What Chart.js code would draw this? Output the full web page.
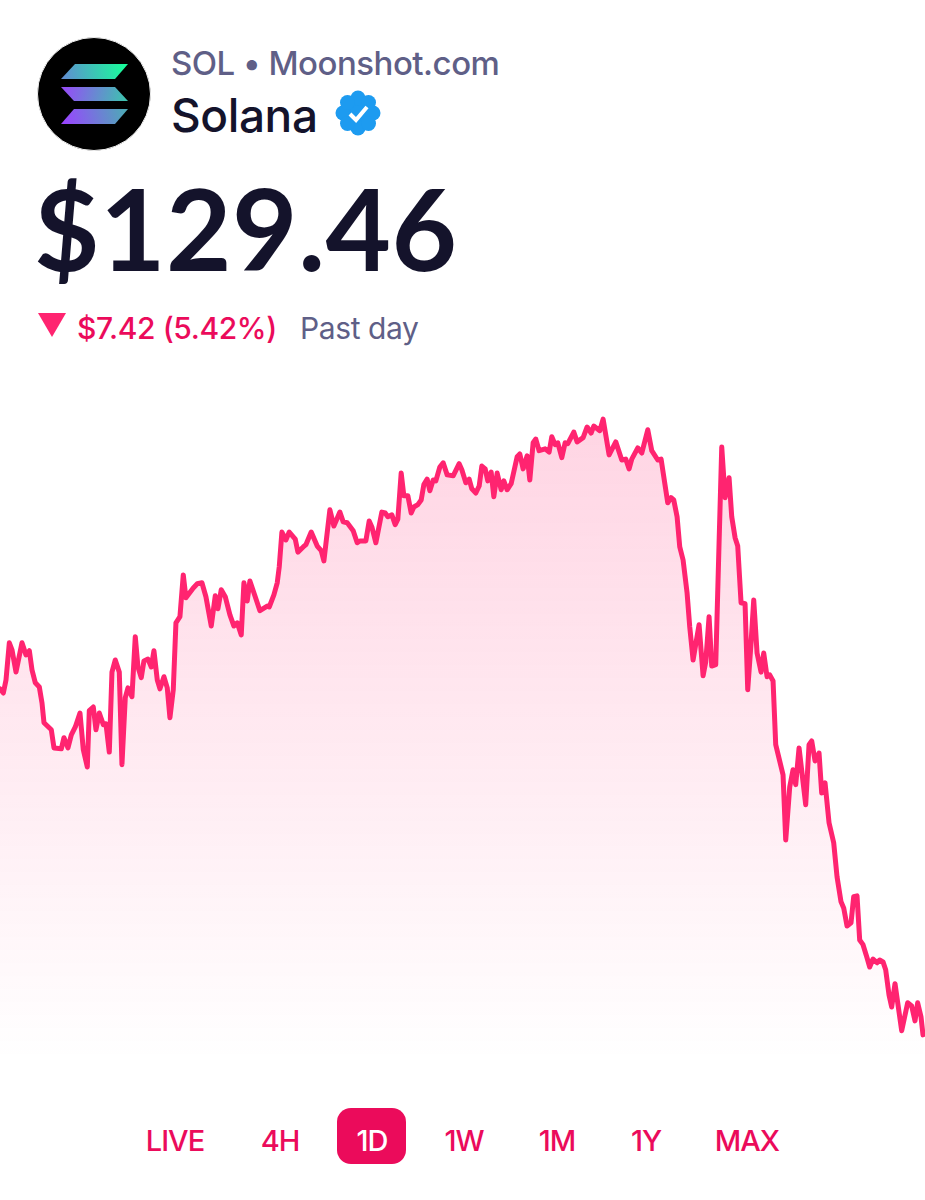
<!DOCTYPE html>
<html>
<head>
<meta charset="utf-8">
<title>Solana</title>
<script src="https://cdn.jsdelivr.net/npm/chart.js@4"></script>
<style>
    html, body { margin: 0; padding: 0; background: #fff; }
    body { position: relative; width: 925px; height: 1200px; overflow: hidden; font-family: Inter, sans-serif; }
    .abs { position: absolute; white-space: nowrap; line-height: 1; }
    #chart-wrap { position: absolute; left: 0; top: 400px; width: 925px; height: 660px; }
    #ticker { left: 171px; top: 47px; font-size: 33px; color: #5f5f87; font-weight: 500; letter-spacing: -0.5px; }
    #name { left: 171px; top: 92px; font-size: 46px; color: #14132b; font-weight: 500; letter-spacing: -0.4px; }
    #price { left: 34px; top: 171px; font-family: Lato, sans-serif; font-size: 113px; color: #14132b; font-weight: 700; letter-spacing: 0.5px; }
    #change { left: 77px; top: 313px; font-size: 30px; color: #eb0b5b; font-weight: 500; letter-spacing: -0.4px; }
    #past { left: 300px; top: 313px; font-size: 30px; color: #5f5f87; letter-spacing: -0.4px; }
    .range { top: 1126px; font-size: 29px; color: #eb0b5b; font-weight: 500; letter-spacing: -1px; transform: translateX(-50%); }
    #active-range { position: absolute; left: 337px; top: 1108px; width: 69px; height: 56px; border-radius: 14px; background: #eb0b5b; }
</style>
</head>
<body>

<svg class="abs" style="left:0;top:0" width="420" height="345">
    <defs>
        <linearGradient id="sol-top" gradientUnits="userSpaceOnUse" x1="64" y1="78" x2="124" y2="65">
            <stop offset="0" stop-color="#5f8fd0"/>
            <stop offset="1" stop-color="#19fb9b"/>
        </linearGradient>
        <linearGradient id="sol-mid" gradientUnits="userSpaceOnUse" x1="66" y1="88" x2="124" y2="100">
            <stop offset="0" stop-color="#9350f5"/>
            <stop offset="1" stop-color="#3fc0b0"/>
        </linearGradient>
        <linearGradient id="sol-low" gradientUnits="userSpaceOnUse" x1="64" y1="123" x2="124" y2="110">
            <stop offset="0" stop-color="#9945ff"/>
            <stop offset="1" stop-color="#4fa8b8"/>
        </linearGradient>
    </defs>
    <circle cx="94" cy="94" r="56.5" fill="#000" stroke="#eeeeee" stroke-width="1"/>
    <polygon points="75,64 128,64 115,79 61,79" fill="url(#sol-top)"/>
    <polygon points="61,87 115,87 128,101 74,101" fill="url(#sol-mid)"/>
    <polygon points="74,109 128,109 115,124 61,124" fill="url(#sol-low)"/>
    <g fill="#1d9bf0">
        <circle cx="358" cy="113" r="16"/>
        <circle cx="358" cy="98" r="7.5"/>
        <circle cx="358" cy="128" r="7.5"/>
        <circle cx="343" cy="113" r="7.5"/>
        <circle cx="373" cy="113" r="7.5"/>
        <circle cx="347.5" cy="102.5" r="7.5"/>
        <circle cx="368.5" cy="102.5" r="7.5"/>
        <circle cx="347.5" cy="123.5" r="7.5"/>
        <circle cx="368.5" cy="123.5" r="7.5"/>
    </g>
    <polyline points="350,114 356,120 367,107" fill="none" stroke="#fff" stroke-width="4"/>
    <polygon points="38,313 66,313 52,337" fill="#ff2470"/>
</svg>

<div class="abs" id="ticker">SOL • Moonshot.com</div>
<div class="abs" id="name">Solana</div>
<div class="abs" id="price">$129.46</div>
<div class="abs" id="change">$7.42 (5.42%)</div>
<div class="abs" id="past">Past day</div>

<div id="chart-wrap"><canvas id="price-chart" width="925" height="660"></canvas></div>

<div id="active-range"></div>
<div id="range-row"></div>

<script>
// minutes since the start of the window
const minutes = [
    0,5,9,14,18,24,33,39,44,48,53,59,63,66,77,81,92,96,102,107,113,120,125,131,134,140,144,149,155,159,
    164,168,173,179,183,188,192,198,203,207,212,216,222,227,231,236,240,246,251,255,260,264,270,275,279,290,296,303,309,317,
    323,327,332,338,345,351,356,362,366,371,375,383,390,401,404,411,416,419,423,429,434,443,447,455,459,467,476,482,486,495,
    501,510,515,521,530,536,540,549,554,558,564,573,578,582,588,593,597,602,606,612,617,621,627,632,636,641,645,650,654,660,
    665,671,680,689,693,699,704,708,714,719,723,728,732,737,741,746,752,756,761,767,776,780,785,791,795,800,804,809,818,824,
    828,833,837,843,848,852,861,866,875,881,887,891,900,905,914,924,933,939,944,948,957,963,972,978,987,992,1002,1007,1011,1016,
    1020,1025,1031,1035,1040,1049,1055,1059,1064,1068,1074,1079,1083,1088,1094,1098,1103,1107,1112,1118,1122,1127,1131,1136,1142,1146,1151,1155,1160,1164,
    1175,1179,1185,1190,1194,1199,1209,1214,1218,1223,1229,1233,1238,1244,1251,1256,1262,1266,1271,1277,1281,1286,1290,1295,1301,1305,1310,1316,1320,1325,
    1329,1334,1338,1343,1353,1362,1368,1373,1377,1382,1385
];

// SOL price in dollars at each of those minutes
const prices = [
    136.90,136.81,137.09,137.89,137.74,137.26,137.89,137.63,137.72,137.31,137.03,136.94,136.60,136.17,136.02,135.63,135.61,135.85,135.63,135.91,136.08,136.38,135.59,135.22,136.43,136.51,136.02,136.38,136.13,136.15,
    135.54,137.26,137.52,137.26,135.27,136.71,136.92,136.73,138.02,137.37,137.14,137.50,137.54,137.37,137.72,137.09,136.90,137.16,136.92,136.28,136.88,138.32,138.45,139.35,138.86,139.07,139.16,139.18,138.88,138.25,
    138.90,138.62,139.03,138.88,138.49,138.25,138.32,138.06,139.18,138.79,139.22,138.88,138.58,138.68,138.66,138.92,139.18,139.52,140.27,140.10,140.27,140.12,139.84,139.95,140.00,140.27,139.97,139.87,139.65,140.75,
    140.40,140.70,140.49,140.47,140.30,140.04,140.08,140.08,140.51,140.38,140.04,140.70,140.68,140.60,140.64,140.43,140.55,141.54,141.05,141.05,140.68,140.81,140.86,140.96,141.29,141.41,141.16,141.39,141.37,141.67,
    141.76,141.50,141.48,141.74,141.61,141.33,141.41,141.20,141.11,141.26,141.69,141.63,141.37,141.56,141.03,141.54,141.18,141.37,141.18,141.31,141.89,141.95,141.63,141.91,141.39,142.19,142.27,142.02,142.06,141.99,
    142.32,142.15,142.19,141.87,142.19,142.17,142.42,142.21,142.30,142.53,142.40,142.55,142.45,142.70,141.93,142.21,141.82,141.84,141.63,141.84,142.08,141.97,142.47,142.02,141.82,141.84,140.90,141.01,140.96,140.60,
    139.95,139.67,138.96,138.23,137.52,138.28,137.18,137.48,138.45,137.39,137.42,140.04,142.10,141.01,141.44,140.60,140.15,139.97,138.75,138.73,136.88,137.89,138.81,137.67,137.26,137.67,137.16,137.20,137.07,135.70,
    135.05,133.65,134.79,135.16,134.84,135.63,134.41,135.70,135.78,135.35,135.52,134.66,134.88,134.02,133.59,132.86,132.32,132.19,131.80,131.87,132.43,132.45,131.50,131.40,131.12,130.92,131.09,131.01,131.07,131.03,
    130.86,130.32,130.06,130.56,129.55,130.15,130.08,129.76,130.15,129.85,129.46
];

const rangeLabels = ['LIVE', '4H', '1D', '1W', '1M', '1Y', 'MAX'];
const rangeCenters = [175, 280, 372, 464, 557, 646, 747];
const activeRange = '1D';

const rangeRow = document.getElementById('range-row');
rangeLabels.forEach((label, i) => {
    const el = document.createElement('div');
    el.className = 'abs range';
    el.style.left = rangeCenters[i] + 'px';
    el.textContent = label;
    if (label === activeRange) el.style.color = '#fff';
    rangeRow.appendChild(el);
});

function areaFill(context) {
    const area = context.chart.chartArea;
    if (!area) return 'transparent';
    const grad = context.chart.ctx.createLinearGradient(0, area.top, 0, area.bottom);
    grad.addColorStop(0, 'rgba(255, 36, 112, 0.20)');
    grad.addColorStop(1, 'rgba(255, 36, 112, 0)');
    return grad;
}

new Chart(document.getElementById('price-chart'), {
    type: 'line',
    data: {
        datasets: [{
            data: minutes.map((m, i) => ({ x: m, y: prices[i] })),
            borderColor: '#ff2470',
            borderWidth: 5,
            borderJoinStyle: 'round',
            borderCapStyle: 'round',
            backgroundColor: areaFill,
            fill: 'start',
            pointRadius: 0,
            tension: 0
        }]
    },
    options: {
        responsive: false,
        animation: false,
        layout: { padding: 0 },
        plugins: { legend: { display: false }, tooltip: { enabled: false } },
        scales: {
            x: { type: 'linear', min: 0, max: 1388, display: false },
            y: { min: 128.92, max: 143.11, display: false }
        }
    }
});
</script>
</body>
</html>
